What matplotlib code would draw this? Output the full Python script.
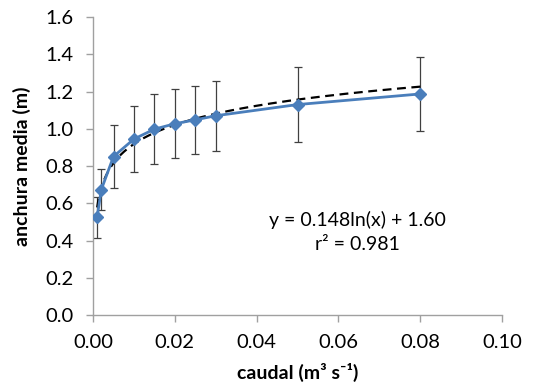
import numpy as np
import matplotlib
matplotlib.use("Agg")
import matplotlib.pyplot as plt

plt.rcParams['font.family'] = ['Lato', 'DejaVu Sans']

caudal = [0.001, 0.002, 0.005, 0.010, 0.015, 0.020, 0.025, 0.030, 0.050, 0.080]
anchura = [0.525, 0.672, 0.851, 0.945, 0.998, 1.027, 1.048, 1.070, 1.130, 1.187]
error = [0.11, 0.11, 0.167, 0.177, 0.187, 0.185, 0.184, 0.189, 0.200, 0.200]

# logarithmic fit: y = a ln(x) + b
fit_a, fit_b = 0.148, 1.60
x_ticks = [0.00, 0.02, 0.04, 0.06, 0.08, 0.10]
y_ticks = [0.0, 0.2, 0.4, 0.6, 0.8, 1.0, 1.2, 1.4, 1.6]

fig = plt.figure(figsize=(5.41, 3.87), dpi=100)
ax = fig.add_axes([0.172, 0.186, 0.756, 0.770])

blue = '#4a7ebb'
ax.errorbar(caudal, anchura, yerr=error, fmt='none', ecolor='#404040',
            elinewidth=0.9, capsize=3, capthick=0.9, zorder=2)
xf = np.linspace(caudal[0], caudal[-1], 400)
ax.plot(xf, fit_a * np.log(xf) + fit_b, color='black', lw=1.6,
        ls=(0, (4, 2.5)), zorder=3)
ax.plot(caudal, anchura, color=blue, lw=2.0, marker='D', ms=6.5,
        mfc=blue, mec=blue, zorder=4)

ax.set_xlim(0, 0.10)
ax.set_ylim(0, 1.6)
ax.set_xticks(x_ticks)
ax.set_yticks(y_ticks)
ax.set_xticklabels([f"{v:.2f}" for v in x_ticks])
ax.set_yticklabels([f"{v:.1f}" for v in y_ticks])

for s in ['top', 'right']:
    ax.spines[s].set_visible(False)
for s in ['left', 'bottom']:
    ax.spines[s].set_color('#a0a0a0')
    ax.spines[s].set_linewidth(1.0)
ax.tick_params(axis='both', colors='#a0a0a0', labelcolor='black',
               labelsize=14.5, length=5, width=1.0, direction='out')
ax.tick_params(axis='x', pad=9)
ax.tick_params(axis='y', pad=9)

ax.set_xlabel('caudal (m³ s⁻¹)', fontsize=14, fontweight='bold',
              labelpad=8)
ax.set_ylabel('anchura media (m)', fontsize=14, fontweight='bold',
              labelpad=10)

ax.text(0.0646, 0.51, 'y = 0.148ln(x) + 1.60', ha='center', va='center',
        fontsize=14)
ax.text(0.0646, 0.376, 'r² = 0.981', ha='center', va='center',
        fontsize=14)

fig.savefig('out.png', dpi=100)
